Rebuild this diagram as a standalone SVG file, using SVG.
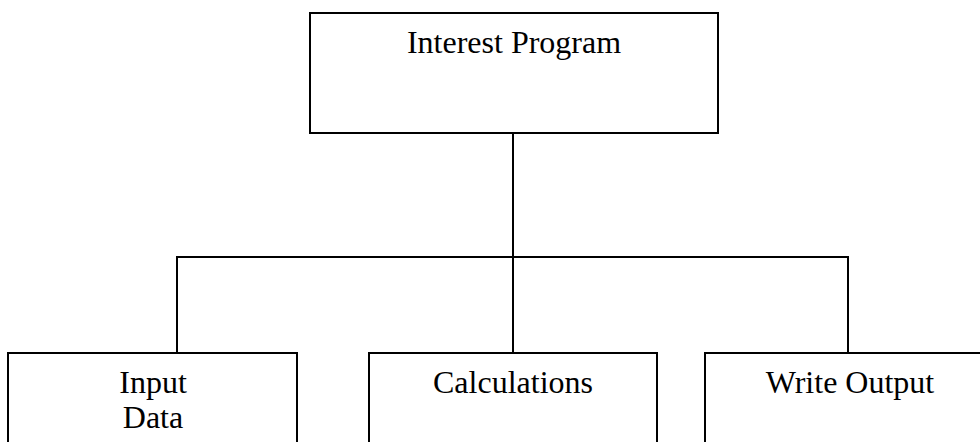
<svg xmlns="http://www.w3.org/2000/svg" width="980" height="442" viewBox="0 0 980 442">
  <style>
    .box { fill: #ffffff; stroke: #000000; stroke-width: 2; }
    .wire { fill: none; stroke: #000000; stroke-width: 2; }
    .label { font-family: "Liberation Serif", "Times New Roman", serif; font-size: 32px; fill: #000000; text-anchor: middle; }
  </style>
  <rect width="980" height="442" fill="#ffffff"/>
  <g id="connectors">
    <path class="wire" d="M513 133 V257"/>
    <path class="wire" d="M177 353 V257 H848 V353"/>
    <path class="wire" d="M513 257 V353"/>
  </g>
  <g id="interest-program">
    <rect class="box" x="310" y="13" width="408" height="120"/>
    <text class="label" x="514" y="53">Interest Program</text>
  </g>
  <g id="input-data">
    <rect class="box" x="8" y="353" width="289" height="100"/>
    <text class="label" x="153" y="393">Input</text>
    <text class="label" x="153" y="428">Data</text>
  </g>
  <g id="calculations">
    <rect class="box" x="369" y="353" width="288" height="100"/>
    <text class="label" x="513" y="393">Calculations</text>
  </g>
  <g id="write-output">
    <rect class="box" x="705" y="353" width="290" height="100"/>
    <text class="label" x="850" y="393">Write Output</text>
  </g>
</svg>
